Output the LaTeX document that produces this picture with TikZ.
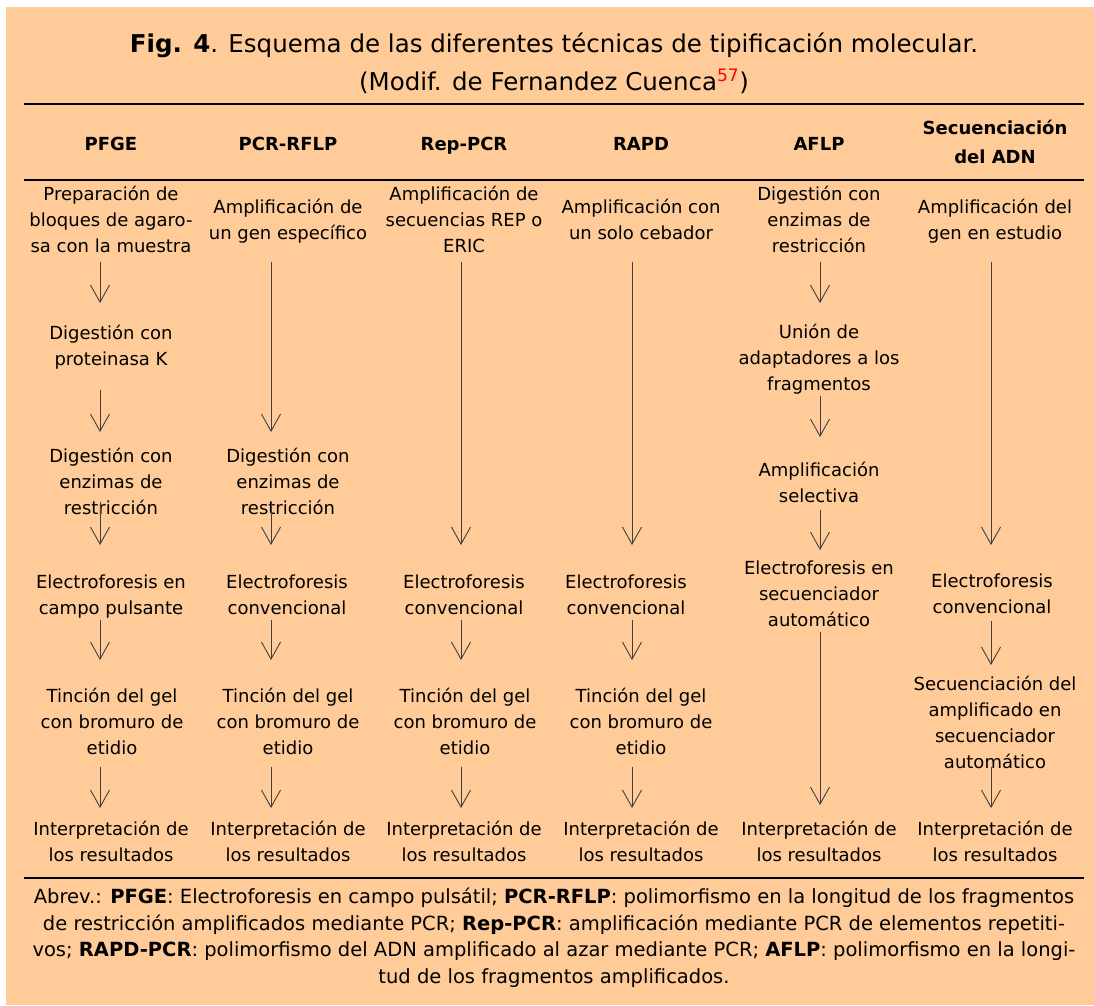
\documentclass[tikz,border=0pt]{standalone}
\usepackage{fontspec}
\setmainfont{DejaVu Sans}
\usepackage{xcolor}
\usetikzlibrary{arrows.meta}

\definecolor{peach}{RGB}{255,204,153}

\begin{document}
\begin{tikzpicture}[x=1pt, y=-1pt,
    stepbox/.style={align=center, inner sep=0pt, anchor=north, font=\fontsize{18}{26}\selectfont,
        execute at begin node=\strut, execute at end node=\strut},
    hdr/.style={align=center, inner sep=0pt, anchor=north, font=\bfseries\fontsize{18}{29}\selectfont,
        execute at begin node=\strut, execute at end node=\strut},
    ttl/.style={align=center, inner sep=0pt, anchor=north, font=\fontsize{24.5}{38}\selectfont,
        execute at begin node=\strut, execute at end node=\strut},
    note/.style={align=center, inner sep=0pt, anchor=north, font=\fontsize{19.5}{26.7}\selectfont,
        execute at begin node=\strut, execute at end node=\strut},
    flow/.style={-{Straight Barb[length=17pt, width=19pt]}, line width=0.9pt, black!75},
    rule/.style={line width=2.5pt}
]

% ---- frame ----
\fill[white] (0,0) rectangle (1094,1005);
\fill[peach] (6,7) rectangle (1094,1005);
\useasboundingbox (0,0) rectangle (1094,1005);

% ---- title ----
\node[ttl] (title) at (554,33) {\textbf{Fig. 4}. Esquema de las diferentes técnicas de tipificación molecular.\\(Modif. de Fernandez Cuenca\textsuperscript{\textcolor{red}{57}})};

\draw[rule] (24,104) -- (1084,104);
\draw[rule] (24,180) -- (1084,180);
\draw[rule] (24,878) -- (1084,878);

% ---- column heads ----
\node[hdr] (hPfge) at (111,129.5) {PFGE};
\node[hdr] (hPcr) at (288,129.5) {PCR-RFLP};
\node[hdr] (hRep) at (464,129.5) {Rep-PCR};
\node[hdr] (hRapd) at (641,129.5) {RAPD};
\node[hdr] (hAflp) at (819,129.5) {AFLP};
\node[hdr] (hSeq) at (995,120.2) {Secuenciación\\del ADN};

% arrow columns
\coordinate (a1) at (100,0);
\coordinate (a2) at (271,0);
\coordinate (a3) at (461,0);
\coordinate (a4) at (632,0);
\coordinate (a5) at (820,0);
\coordinate (a6) at (991,0);

% ---- PFGE ----
\node[stepbox] (pfA) at (111,185.8) {Preparación de\\bloques de agaro-\\sa con la muestra};
\node[stepbox] (pfB) at (111,324.8) {Digestión con\\proteinasa K};
\node[stepbox] (pfC) at (111,447.8) {Digestión con\\enzimas de\\restricción};
\node[stepbox] (pfD) at (111,574.8) {Electroforesis en\\campo pulsante};
\node[stepbox] (pfE) at (112,687.8) {Tinción del gel\\con bromuro de\\etidio};
\node[stepbox] (pfF) at (111,820.8) {Interpretación de\\los resultados};

% ---- PCR-RFLP ----
\node[stepbox] (prA) at (288,198.8) {Amplificación de\\un gen específico};
\node[stepbox] (prC) at (288,447.8) {Digestión con\\enzimas de\\restricción};
\node[stepbox] (prD) at (287,574.8) {Electroforesis\\convencional};
\node[stepbox] (prE) at (288,687.8) {Tinción del gel\\con bromuro de\\etidio};
\node[stepbox] (prF) at (288,820.8) {Interpretación de\\los resultados};

% ---- Rep-PCR ----
\node[stepbox] (rpA) at (464,185.8) {Amplificación de\\secuencias REP o\\ERIC};
\node[stepbox] (rpD) at (464,574.8) {Electroforesis\\convencional};
\node[stepbox] (rpE) at (465,687.8) {Tinción del gel\\con bromuro de\\etidio};
\node[stepbox] (rpF) at (464,820.8) {Interpretación de\\los resultados};

% ---- RAPD ----
\node[stepbox] (raA) at (641,198.8) {Amplificación con\\un solo cebador};
\node[stepbox] (raD) at (626,574.8) {Electroforesis\\convencional};
\node[stepbox] (raE) at (641,687.8) {Tinción del gel\\con bromuro de\\etidio};
\node[stepbox] (raF) at (641,820.8) {Interpretación de\\los resultados};

% ---- AFLP ----
\node[stepbox] (afA) at (819,185.8) {Digestión con\\enzimas de\\restricción};
\node[stepbox] (afB) at (819,323.8) {Unión de\\adaptadores a los\\fragmentos};
\node[stepbox] (afC) at (819,461.8) {Amplificación\\selectiva};
\node[stepbox] (afD) at (819,560.8) {Electroforesis en\\secuenciador\\automático};
\node[stepbox] (afF) at (819,820.8) {Interpretación de\\los resultados};

% ---- Secuenciacion ----
\node[stepbox] (sqA) at (995,198.8) {Amplificación del\\gen en estudio};
\node[stepbox] (sqD) at (992,573.8) {Electroforesis\\convencional};
\node[stepbox] (sqE) at (995,675.8) {Secuenciación del\\amplificado en\\secuenciador\\automático};
\node[stepbox] (sqF) at (995,820.8) {Interpretación de\\los resultados};

% ---- footnote ----
\node[note] (abrev) at (554,887.5) {Abrev.: \textbf{PFGE}: Electroforesis en campo pulsátil; \textbf{PCR-RFLP}: polimorfismo en la longitud de los fragmentos\\
de restricción amplificados mediante PCR; \textbf{Rep-PCR}: amplificación mediante PCR de elementos repetiti-\\
vos; \textbf{RAPD-PCR}: polimorfismo del ADN amplificado al azar mediante PCR; \textbf{AFLP}: polimorfismo en la longi-\\
tud de los fragmentos amplificados.};

% Flow
\draw[flow, shorten <=1.2pt, shorten >=21.8pt] (pfA.south -| a1) -- (pfB.north -| a1);
\draw[flow, shorten <=16.2pt, shorten >=15.8pt] (pfB.south -| a1) -- (pfC.north -| a1);
\draw[flow, shorten <=-20.8pt, shorten >=29.8pt] (pfC.south -| a1) -- (pfD.north -| a1);
\draw[flow, shorten <=-3pt, shorten >=27.8pt] (pfD.south -| a1) -- (pfE.north -| a1);
\draw[flow, shorten <=4.2pt, shorten >=12.8pt] (pfE.south -| a1) -- (pfF.north -| a1);

\draw[flow, shorten <=14.2pt, shorten >=15.8pt] (prA.south -| a2) -- (prC.north -| a2);
\draw[flow, shorten <=-20.8pt, shorten >=29.8pt] (prC.south -| a2) -- (prD.north -| a2);
\draw[flow, shorten <=-3pt, shorten >=27.8pt] (prD.south -| a2) -- (prE.north -| a2);
\draw[flow, shorten <=4.2pt, shorten >=12.8pt] (prE.south -| a2) -- (prF.north -| a2);

\draw[flow, shorten <=1.2pt, shorten >=29.8pt] (rpA.south -| a3) -- (rpD.north -| a3);
\draw[flow, shorten <=-3pt, shorten >=27.8pt] (rpD.south -| a3) -- (rpE.north -| a3);
\draw[flow, shorten <=4.2pt, shorten >=12.8pt] (rpE.south -| a3) -- (rpF.north -| a3);

\draw[flow, shorten <=14.2pt, shorten >=29.8pt] (raA.south -| a4) -- (raD.north -| a4);
\draw[flow, shorten <=-3pt, shorten >=27.8pt] (raD.south -| a4) -- (raE.north -| a4);
\draw[flow, shorten <=4.2pt, shorten >=12.8pt] (raE.south -| a4) -- (raF.north -| a4);

\draw[flow, shorten <=1.2pt, shorten >=20.8pt] (afA.south -| a5) -- (afB.north -| a5);
\draw[flow, shorten <=-2.8pt, shorten >=24.8pt] (afB.south -| a5) -- (afC.north -| a5);
\draw[flow, shorten <=-0.8pt, shorten >=10.8pt] (afC.south -| a5) -- (afD.north -| a5);
\draw[flow, shorten <=-3pt, shorten >=15.8pt] (afD.south -| a5) -- (afF.north -| a5);

\draw[flow, shorten <=14.2pt, shorten >=28.8pt] (sqA.south -| a6) -- (sqD.north -| a6);
\draw[flow, shorten <=-0.8pt, shorten >=10.8pt] (sqD.south -| a6) -- (sqE.north -| a6);
\draw[flow, shorten <=-9.8pt, shorten >=12.8pt] (sqE.south -| a6) -- (sqF.north -| a6);
\end{tikzpicture}
\end{document}
